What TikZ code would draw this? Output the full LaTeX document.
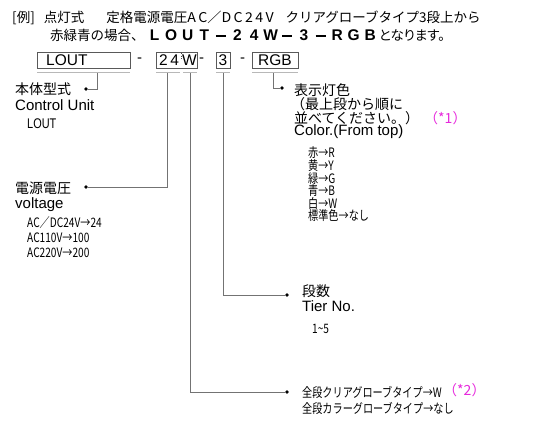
\documentclass[tikz,border=0pt]{standalone}
\usepackage{fontspec}
\setmainfont{Liberation Sans}
\newfontfamily\jp{Noto Sans CJK JP}
\newfontfamily\jpp{Noto Sans CJK JP}[RawFeature=+palt]
\definecolor{lc}{gray}{0.45}
\definecolor{ul}{gray}{0.72}
\definecolor{mg}{RGB}{230,40,220}
\newcommand\nar[1]{\scalebox{0.78}[1]{#1}}
\newcommand\wc[1]{\makebox[16.6pt]{#1}}
\newcommand\wdash{\makebox[16.6pt]{\rule[3.8pt]{10pt}{2pt}}}
\tikzset{
 txt/.style={anchor=west,inner sep=0pt,font=\jp\fontsize{14}{15}\selectfont},
 hd/.style={anchor=west,inner sep=0pt,font=\jp\fontsize{13.5}{15}\selectfont},
 en/.style={anchor=west,inner sep=0pt,font=\fontsize{15}{16}\selectfont},
 sm/.style={anchor=west,inner sep=0pt,font=\jp\fontsize{13}{14}\selectfont},
 conn/.style={draw=lc,line width=0.8pt},
 boxn/.style={draw=black!65,line width=0.7pt,inner sep=0pt},
 uline/.style={draw=ul,line width=1.8pt},
 dotn/.style={circle,fill=black,inner sep=0pt,minimum size=3.6pt},
}
\begin{document}
\begin{tikzpicture}[x=1pt,y=-1pt]
\useasboundingbox (0,0) rectangle (560,428);
% header
\node[hd] (h1) at (12,18) {[例]\hspace{9pt}点灯式\hspace{22pt}定格電源電圧\scalebox{1.05}[1]{A\,C／D\,C\,2\,4\,V}\hspace{12pt}クリアグローブタイプ3段上から};
\node[hd] (h2a) at (50,35) {赤緑青の場合、};
\node[anchor=west,inner sep=0pt,font=\bfseries\fontsize{15.5}{16}\selectfont] (h2b) at (146,35) {\wc{L}\wc{O}\wc{U}\wc{T}\wdash\wc{2}\wc{4}\wc{W}\wdash\wc{3}\wdash\wc{R}\wc{G}\wc{B}};
\node[hd,font=\jpp\fontsize{13.5}{15}\selectfont] (h2c) at (h2b.east) {となります。};
% boxes
\node[boxn,minimum width=93pt,minimum height=16pt,anchor=north west] (bL) at (37,52) {};
\node[en,font=\fontsize{15.5}{16}\selectfont] (tL) at (46,60) {LOUT};
\node[en] (m1) at (137,60) {-};
\node[boxn,minimum width=41pt,minimum height=16pt,anchor=north west] (bV) at (156,52) {};
\node[en,font=\fontsize{15.5}{16}\selectfont] (tV) at (159,60) {2\,4};
\node[en,font=\fontsize{15.5}{16}\selectfont] (tW) at (182,60) {W};
\draw[black!70,line width=0.7pt,dotted] (181,53) -- (181,61);
\node[en] (m2) at (199,60) {-};
\node[boxn,minimum width=14pt,minimum height=16pt,anchor=north west] (b3) at (216,52) {};
\node[en,font=\fontsize{15.5}{16}\selectfont,anchor=center] (t3) at (223,60) {3};
\node[en] (m3) at (240,60) {-};
\node[boxn,minimum width=46pt,minimum height=16pt,anchor=north west] (bR) at (252,52) {};
\node[en,font=\fontsize{15.5}{16}\selectfont,anchor=center] (tR) at (275,60) {RGB};
% underlines
\draw[uline] (37,72.5) -- (130,72.5);
\draw[uline] (156,72.5) -- (180,72.5);
\draw[uline] (183,72.5) -- (197,72.5);
\draw[uline] (216,72.5) -- (230,72.5);
\draw[uline] (252,72.5) -- (298,72.5);
\coordinate (cL) at (97,73.5);
\coordinate (cV) at (167,73.5);
\coordinate (cW) at (190,73.5);
\coordinate (c3) at (223,73.5);
\coordinate (cR) at (273,73.5);
% dots
\node[dotn] (dL) at (86,89) {};
\node[dotn] (dV) at (86,187) {};
\node[dotn] (dR) at (282,88) {};
\node[dotn] (d3) at (287,295) {};
\node[dotn] (dW) at (287,392) {};
\draw[conn] (cL) |- (dL);
\draw[conn] (cV) |- (dV);
\draw[conn] (cR) |- (dR);
\draw[conn] (c3) |- (d3);
\draw[conn] (cW) |- (dW);
% unit
\node[txt] (u1) at (15,89) {本体型式};
\node[en] (u2) at (15,105) {Control Unit};
\node[en,font=\fontsize{14}{15}\selectfont] (u3) at (27,124) {\nar{LOUT}};
% voltage
\node[txt] (v1) at (15,188) {電源電圧};
\node[en] (v2) at (15,205) {voltage};
\node[sm] (v3) at (27,223) {\nar{AC／DC24V→24}};
\node[sm] (v4) at (27,238) {\nar{AC110V→100}};
\node[sm] (v5) at (27,253) {\nar{AC220V→200}};
% color
\node[txt] (k1) at (294,90) {表示灯色};
\node[txt] (k2) at (291,104) {（最上段から順に};
\node[txt] (k3) at (294,118) {並べてください。）};
\node[txt,text=mg] (k4) at (424,118) {（*1）};
\node[en] (k5) at (294,132) {Color.(From top)};
\node[sm] (k6) at (308,153) {\nar{赤→R}};
\node[sm] (k7) at (308,166) {\nar{黄→Y}};
\node[sm] (k8) at (308,178.5) {\nar{緑→G}};
\node[sm] (k9) at (308,191) {\nar{青→B}};
\node[sm] (k10) at (308,203.5) {\nar{白→W}};
\node[sm] (k11) at (308,216) {\nar{標準色→なし}};
% tiers
\node[txt] (s1) at (302,291) {段数};
\node[en] (s2) at (302,306) {Tier No.};
\node[sm] (s3) at (312,329) {\nar{1\textasciitilde5}};
% globe
\node[sm] (g1) at (302,392) {\nar{全段クリアグローブタイプ→W}};
\node[txt,text=mg] (g2) at (443,390) {（*2）};
\node[sm] (g3) at (302,408) {\nar{全段カラーグローブタイプ→なし}};
\end{tikzpicture}
\end{document}
